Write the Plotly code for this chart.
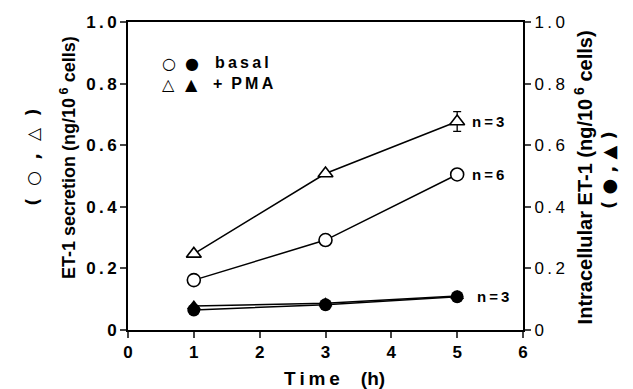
import plotly.graph_objects as go

time_h = [1, 3, 5]
basal_secretion = [0.162, 0.292, 0.505]
basal_secretion_err = [0.0, 0.016, 0.016]
pma_secretion = [0.247, 0.508, 0.677]
pma_secretion_err = [0.0, 0.0, 0.032]
basal_intracellular = [0.065, 0.082, 0.108]
pma_intracellular = [0.078, 0.087, 0.110]

x_ticks = [0, 1, 2, 3, 4, 5, 6]
y_ticks = [0, 0.2, 0.4, 0.6, 0.8, 1.0]
y_ticklabels = ["0", "0.2", "0.4", "0.6", "0.8", "1.0"]

FONT = "Liberation Sans, Arial, sans-serif"
SYM = "DejaVu Sans"
TS = "\u2009"  # thin space used to mimic the wide letter spacing


def spaced(s):
    return TS.join(list(s))


line = dict(color="black", width=1.5)

fig = go.Figure()
fig.add_trace(go.Scatter(
    x=time_h, y=pma_secretion, mode="lines+markers", line=line,
    marker=dict(symbol="triangle-up", size=13, color="white", line=dict(width=1.6, color="black")),
    error_y=dict(type="data", array=pma_secretion_err, color="black", thickness=1.3, width=4),
    showlegend=False))
fig.add_trace(go.Scatter(
    x=time_h, y=basal_secretion, mode="lines+markers", line=line,
    marker=dict(symbol="circle", size=13, color="white", line=dict(width=1.6, color="black")),
    error_y=dict(type="data", array=basal_secretion_err, color="black", thickness=1.3, width=4),
    showlegend=False))
fig.add_trace(go.Scatter(
    x=time_h, y=pma_intracellular, mode="lines+markers", line=line, yaxis="y2",
    marker=dict(symbol="triangle-up", size=12, color="black"),
    showlegend=False))
fig.add_trace(go.Scatter(
    x=time_h, y=basal_intracellular, mode="lines+markers", line=line, yaxis="y2",
    marker=dict(symbol="circle", size=13, color="black"),
    showlegend=False))

# n labels
n_labels = [("n=3", 5.2, pma_secretion[2]), ("n=6", 5.2, basal_secretion[2]),
            ("n=3", 5.27, basal_intracellular[2])]
for txt, xx, yy in n_labels:
    fig.add_annotation(x=xx, y=yy, text=spaced(txt), showarrow=False, xanchor="left",
                       font=dict(family=FONT, size=15, color="black", weight="bold"))

# legend drawn as annotations
legend_rows = [("○", "●", spaced("basal"), 0.903, 0.215),
               ("△", "▲", "+  " + spaced("PMA"), 0.834, 0.21)]
for open_s, filled_s, label, yy, xl in legend_rows:
    fig.add_annotation(xref="paper", yref="paper", x=0.081, y=yy, xanchor="left",
                       text=open_s, showarrow=False,
                       font=dict(family=SYM, size=16, color="black"))
    fig.add_annotation(xref="paper", yref="paper", x=0.139, y=yy, xanchor="left",
                       text=filled_s, showarrow=False,
                       font=dict(family=SYM, size=16, color="black"))
    fig.add_annotation(xref="paper", yref="paper", x=xl, y=yy, xanchor="left",
                       text=label, showarrow=False,
                       font=dict(family=FONT, size=16, color="black", weight="bold"))

# axis titles
fig.add_annotation(xref="paper", yref="paper", x=-0.185, y=0.56, textangle=-90,
                   text="ET-1 secretion (ng/10<sup> 6</sup> cells)", showarrow=False,
                   font=dict(family=FONT, size=18, color="black", weight="bold"))
fig.add_annotation(xref="paper", yref="paper", x=-0.273, y=0.56, textangle=-90,
                   text="(  ○  ,  △  )", showarrow=False,
                   font=dict(family=SYM, size=17, color="black", weight="bold"))
fig.add_annotation(xref="paper", yref="paper", x=1.19, y=0.494, textangle=-90,
                   text="Intracellular ET-1 (ng/10<sup> 6</sup> cells)", showarrow=False,
                   font=dict(family=FONT, size=20, color="black", weight="bold"))
fig.add_annotation(xref="paper", yref="paper", x=1.25, y=0.52, textangle=-90,
                   text="( ● , ▲ )", showarrow=False,
                   font=dict(family=SYM, size=18, color="black", weight="bold"))
fig.add_annotation(xref="paper", yref="paper", x=0.524, y=-0.159, yanchor="middle",
                   text=spaced("Time") + "    (h)", showarrow=False,
                   font=dict(family=FONT, size=19, color="black", weight="bold"))

# The page body has an 8px margin, so the figure is sized/offset to compensate
fig.update_layout(
    width=625, height=381,
    margin=dict(l=120, r=110, t=14, b=59, autoexpand=False),
    paper_bgcolor="white", plot_bgcolor="white",
    xaxis=dict(range=[0, 6], tickvals=x_ticks, ticks="outside", ticklen=6, tickwidth=1.5,
               showline=True, linecolor="black", linewidth=2, mirror=True, showgrid=False,
               zeroline=False, automargin=False,
               tickfont=dict(family=FONT, size=17, color="black", weight="bold")),
    yaxis=dict(range=[0, 1.0], tickvals=y_ticks,
               ticktext=[s.replace(".", TS + "." + TS) for s in y_ticklabels],
               ticks="outside", ticklen=6, tickwidth=1.5, showline=True, linecolor="black",
               linewidth=2, showgrid=False, zeroline=False, automargin=False,
               tickfont=dict(family=FONT, size=17, color="black", weight="bold")),
    yaxis2=dict(range=[0, 1.0], tickvals=y_ticks,
                ticktext=[s.replace(".", TS + "." + TS) for s in y_ticklabels],
                ticks="outside", ticklen=6, tickwidth=1.5, showline=True, linecolor="black",
                linewidth=2, showgrid=False, zeroline=False, overlaying="y", side="right",
                automargin=False,
                tickfont=dict(family=FONT, size=17, color="black")),
)

fig.write_html("out.html")
